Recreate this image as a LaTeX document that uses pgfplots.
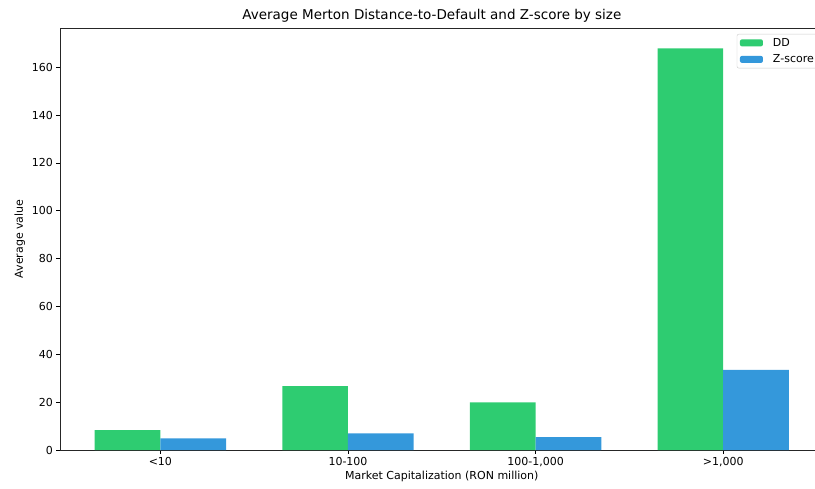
\documentclass[border=0pt]{standalone}
\usepackage{pgfplots}
\pgfplotsset{compat=1.18}
\usepackage{fontspec}
\setmainfont{DejaVu Sans}

\definecolor{ddgreen}{HTML}{2ECC71}
\definecolor{zblue}{HTML}{3498DB}

\begin{document}
\begin{tikzpicture}
\useasboundingbox (-60pt,-38pt) rectangle (755pt,450pt);
\begin{axis}[
    at={(0pt,0pt)}, anchor=south west,
    scale only axis,
    width=763.6pt, height=422pt,
    xmin=-0.535, xmax=3.535,
    ymin=0, ymax=176.4,
    xtick={0,1,2,3},
    xticklabels={{<10},{10-100},{100-1,000},{>1,000}},
    ytick={0,20,...,160},
    tick align=outside,
    major tick length=3.5pt,
    every tick/.style={black, line width=0.8pt},
    axis line style={line width=0.8pt, black!85},
    tick label style={font=\fontsize{11}{13}\selectfont},
    /pgf/number format/assume math mode=true,
    xtick pos=bottom, ytick pos=left,
    title={Average Merton Distance-to-Default and Z-score by size},
    title style={font=\fontsize{13.5}{16}\selectfont, at={(0.487,1)}, anchor=base, yshift=2.5pt},
    xlabel={Market Capitalization (RON million)},
    ylabel={Average value},
    label style={font=\fontsize{11}{13}\selectfont},
    xlabel style={yshift=2pt},
    legend style={at={(0.994,0.986)}, anchor=north east,
        draw=black!20, rounded corners=2pt, font=\fontsize{11}{13}\selectfont,
        inner xsep=3pt, inner ysep=2pt, row sep=3pt,
        /tikz/every odd column/.append style={column sep=8pt}},
    legend cell align=left,
]
\addplot[fill=ddgreen, draw=none, ybar, bar width=0.35, bar shift=-0.175,
    legend image code/.code={\fill[ddgreen] (0pt,-3.5pt) rectangle (23pt,3.5pt);}]
    coordinates {(0,8.3) (1,26.7) (2,19.9) (3,167.9)};
\addlegendentry{DD}
\addplot[fill=zblue, draw=none, ybar, bar width=0.35, bar shift=0.175,
    legend image code/.code={\fill[zblue] (0pt,-3.5pt) rectangle (23pt,3.5pt);}]
    coordinates {(0,4.9) (1,7.0) (2,5.4) (3,33.5)};
\addlegendentry{Z-score}
\end{axis}
\end{tikzpicture}
\end{document}
